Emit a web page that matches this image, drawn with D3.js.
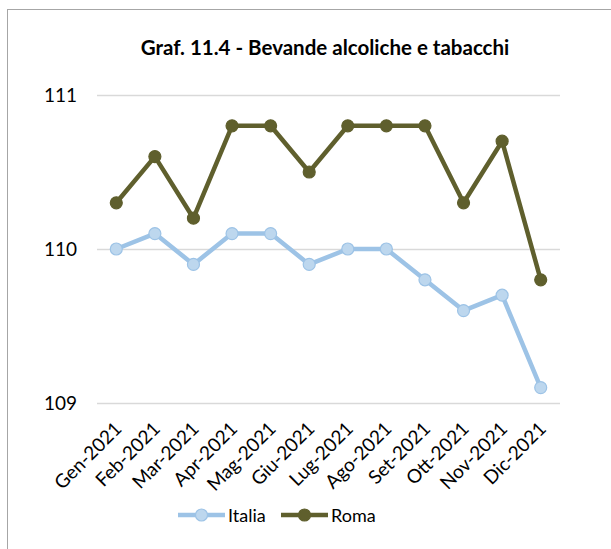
<!DOCTYPE html>
<html>
<head>
<meta charset="utf-8">
<script src="https://cdn.jsdelivr.net/npm/d3@7"></script>
<style>
  body { margin: 0; background: #fff; }
  text { font-family: Lato, "Open Sans", sans-serif; fill: #000; }
</style>
</head>
<body>
<div id="chart"></div>
<script>
// data
var months = ["Gen-2021", "Feb-2021", "Mar-2021", "Apr-2021", "Mag-2021", "Giu-2021",
              "Lug-2021", "Ago-2021", "Set-2021", "Ott-2021", "Nov-2021", "Dic-2021"];
var italia = [110.0, 110.1, 109.9, 110.1, 110.1, 109.9, 110.0, 110.0, 109.8, 109.6, 109.7, 109.1];
var roma   = [110.3, 110.6, 110.2, 110.8, 110.8, 110.5, 110.8, 110.8, 110.8, 110.3, 110.7, 109.8];
var yTicks = [109, 110, 111];

var W = 611, H = 549;
var margin = {top: 95, right: 51, bottom: 146, left: 97},
    width = W - margin.left - margin.right,
    height = H - margin.top - margin.bottom;

var svg = d3.select("#chart").append("svg")
    .attr("width", W)
    .attr("height", H);

// chart frame (runs off the right and bottom of the picture)
svg.append("rect")
    .attr("x", 7.5).attr("y", 9.5)
    .attr("width", W + 10).attr("height", H + 10)
    .attr("fill", "none")
    .attr("stroke", "#a6a6a6")
    .attr("stroke-width", 1);

svg.append("text")
    .attr("x", 325).attr("y", 55)
    .attr("text-anchor", "middle")
    .style("font-weight", "bold")
    .style("font-size", "20.5px")
    .text("Graf. 11.4 - Bevande alcoliche e tabacchi");

var g = svg.append("g")
    .attr("transform", "translate(" + margin.left + "," + margin.top + ")");

var x = d3.scalePoint()
    .domain(months)
    .range([0, width])
    .padding(0.5);

var y = d3.scaleLinear()
    .domain([109, 111])
    .range([height, 0]);

// gridlines + y labels
var yAxis = g.append("g")
    .call(d3.axisLeft(y).tickValues(yTicks).tickSize(-width).tickPadding(20).tickFormat(d3.format("d")));
yAxis.select(".domain").remove();
yAxis.selectAll("line").attr("stroke", "#d9d9d9").attr("stroke-width", 1.5);
yAxis.selectAll("text").style("font-size", "19px").attr("fill", "#000");

// x labels
var xAxis = g.append("g")
    .attr("transform", "translate(0," + height + ")")
    .call(d3.axisBottom(x).tickSize(0).tickPadding(0));
xAxis.select(".domain").remove();
xAxis.selectAll("text")
    .style("font-size", "19px")
    .attr("fill", "#000")
    .attr("text-anchor", "end")
    .attr("dy", 0)
    .attr("transform", "translate(6,27) rotate(-45)");

var series = [
  {name: "Italia", values: italia, line: "#9dc3e6", fill: "#bdd7ee"},
  {name: "Roma", values: roma, line: "#5f5f2d", fill: "#5f5f2d"}
];

var line = d3.line()
    .x(function (d, i) { return x(months[i]); })
    .y(function (d) { return y(d); });

series.forEach(function (s) {
  g.append("path")
      .datum(s.values)
      .attr("fill", "none")
      .attr("stroke", s.line)
      .attr("stroke-width", 4.5)
      .attr("stroke-linejoin", "round")
      .attr("d", line);
  g.append("g")
    .selectAll("circle")
    .data(s.values)
    .enter()
    .append("circle")
      .attr("cx", function (d, i) { return x(months[i]); })
      .attr("cy", function (d) { return y(d); })
      .attr("r", 6)
      .attr("fill", s.fill)
      .attr("stroke", s.line)
      .attr("stroke-width", 1.2);
});

// legend
var legend = svg.append("g").attr("transform", "translate(178,515)");
var lx = [0, 103];
series.forEach(function (s, i) {
  var item = legend.append("g").attr("transform", "translate(" + lx[i] + ",0)");
  item.append("line")
      .attr("x1", 0).attr("x2", 47)
      .attr("stroke", s.line).attr("stroke-width", 4.5);
  item.append("circle")
      .attr("cx", 23.5).attr("r", 6)
      .attr("fill", s.fill).attr("stroke", s.line).attr("stroke-width", 1.2);
  item.append("text")
      .attr("x", 50).attr("y", 6.5)
      .style("font-size", "18px")
      .text(s.name);
});
</script>
</body>
</html>
